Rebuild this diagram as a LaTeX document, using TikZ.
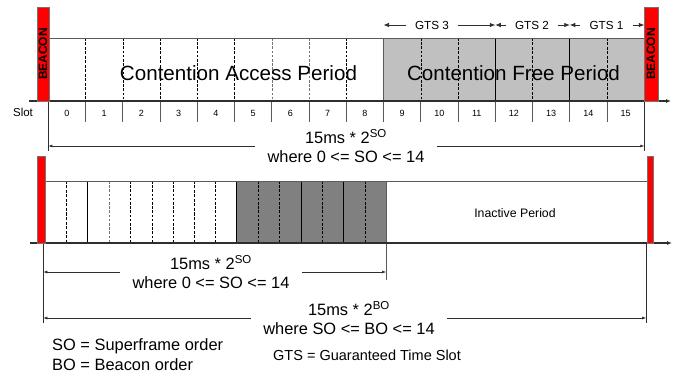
\documentclass[tikz,border=0pt]{standalone}
\usepackage{fontspec}
\setmainfont{Liberation Sans}
\usetikzlibrary{arrows.meta}
\definecolor{SFRed}{HTML}{FF0000}
\definecolor{SFLight}{HTML}{C0C0C0}
\definecolor{SFDark}{HTML}{808080}
\definecolor{SFLine}{HTML}{2E2E2E}
\definecolor{SFFrame}{HTML}{5A5A5A}
\tikzset{
  beacon/.style={draw=black!55,line width=0.4pt,fill=SFRed,rotate=90,inner sep=0pt,
    font=\fontsize{12}{12}\selectfont\bfseries},
  slotbold/.style={black,line width=1.1pt,dash pattern=on 3pt off 1.5pt},
  slotfine/.style={black,line width=0.5pt,dash pattern=on 2.6pt off 1.6pt},
  slotgrey/.style={slotfine,black!55},
  slotsolid/.style={black,line width=0.7pt},
  slottick/.style={SFFrame,line width=0.7pt},
  frameline/.style={SFFrame,line width=0.9pt},
  timeaxis/.style={SFLine,line width=1.4pt,-{Latex[length=5pt,width=4pt]}},
  dimarrow/.style={SFLine,line width=0.6pt,-{Latex[length=4pt,width=3pt]}},
  gtsarrow/.style={SFLine,line width=0.7pt,-{Latex[length=5.5pt,width=4.5pt]}},
  bigtxt/.style={font=\fontsize{20.6}{24}\selectfont},
  dimtxt/.style={align=center,font=\fontsize{16.4}{19}\selectfont,inner xsep=12pt,inner ysep=0pt},
  slotnum/.style={font=\fontsize{9}{9}\selectfont,inner sep=0pt},
  gtstxt/.style={font=\fontsize{11.7}{12}\selectfont,inner xsep=9pt,inner ysep=0pt},
  notetxt/.style={anchor=west,inner sep=0pt,font=\fontsize{16.4}{19}\selectfont}
}
\begin{document}
\begin{tikzpicture}[x=1pt,y=-1pt]
\path[use as bounding box] (0,0) rectangle (677,374);
% superframe with contention free part
\fill[SFLight] (383.55,38) rectangle (644.3,101);
\draw[slotbold] (85.55,38) -- (85.55,101);
\draw[slotfine] (122.8,38) -- (122.8,101);
\draw[slotbold] (160.05,38) -- (160.05,101);
\draw[slotfine] (197.3,38) -- (197.3,101);
\draw[slotbold] (234.55,38) -- (234.55,101);
\draw[slotgrey] (271.8,38) -- (271.8,101);
\draw[slotgrey] (309.05,38) -- (309.05,101);
\draw[slotfine] (346.3,38) -- (346.3,101);
\draw[slotsolid,SFFrame] (383.55,38) -- (383.55,101);
\draw[slotfine] (420.8,38) -- (420.8,101);
\draw[slotbold] (458.05,38) -- (458.05,101);
\draw[slotsolid] (495.3,38) -- (495.3,101);
\draw[slotbold] (532.55,38) -- (532.55,101);
\draw[slotsolid] (569.8,38) -- (569.8,101);
\draw[slotbold] (607.05,38) -- (607.05,101);
\draw[frameline] (36.7,38) -- (644.3,38);
\draw[slottick] (85.55,101) -- (85.55,122) (122.8,101) -- (122.8,122) (160.05,101) -- (160.05,122)
  (197.3,101) -- (197.3,122) (234.55,101) -- (234.55,122) (271.8,101) -- (271.8,122)
  (309.05,101) -- (309.05,122) (346.3,101) -- (346.3,122) (383.55,101) -- (383.55,122)
  (420.8,101) -- (420.8,122) (458.05,101) -- (458.05,122) (495.3,101) -- (495.3,122)
  (532.55,101) -- (532.55,122) (569.8,101) -- (569.8,122) (607.05,101) -- (607.05,122);
\draw[SFLine,line width=0.7pt] (48.3,101) -- (48.3,151);
\draw[SFLine,line width=0.7pt] (644.3,101) -- (644.3,151);
\draw[timeaxis] (29,101) -- (671,101);
\node[beacon,minimum width=94pt,minimum height=12.6pt] (bcnA) at (43,54) {BEACON};
\node[beacon,minimum width=94pt,minimum height=13.4pt] (bcnB) at (651,54) {BEACON};
\node[bigtxt] (cap) at (238.5,73) {Contention Access Period};
\node[bigtxt] (cfp) at (513.5,73) {Contention Free Period};
\node[font=\fontsize{11.5}{12}\selectfont,inner sep=0pt] (slotlbl) at (23,112) {Slot};
\node[slotnum] (s0) at (66.9,113) {0};
\node[slotnum] (s1) at (104.2,113) {1};
\node[slotnum] (s2) at (141.4,113) {2};
\node[slotnum] (s3) at (178.7,113) {3};
\node[slotnum] (s4) at (215.9,113) {4};
\node[slotnum] (s5) at (253.2,113) {5};
\node[slotnum] (s6) at (290.4,113) {6};
\node[slotnum] (s7) at (327.7,113) {7};
\node[slotnum] (s8) at (364.9,113) {8};
\node[slotnum] (s9) at (402.2,113) {9};
\node[slotnum] (s10) at (439.4,113) {10};
\node[slotnum] (s11) at (476.7,113) {11};
\node[slotnum] (s12) at (513.9,113) {12};
\node[slotnum] (s13) at (551.2,113) {13};
\node[slotnum] (s14) at (588.4,113) {14};
\node[slotnum] (s15) at (625.7,113) {15};
% guaranteed time slots
\coordinate (g0) at (383.55,25);
\coordinate (g1) at (495.3,25);
\coordinate (g2) at (569.8,25);
\coordinate (g3) at (644.3,25);
\node[gtstxt] (gts3) at (432,25) {GTS 3};
\node[gtstxt] (gts2) at (532,25) {GTS 2};
\node[gtstxt] (gts1) at (606.5,25) {GTS 1};
\draw[gtsarrow] (gts3.west) -- (g0);
\draw[gtsarrow] (gts3.east) -- (g1);
\draw[gtsarrow] (gts2.west) -- (g1);
\draw[gtsarrow] (gts2.east) -- (g2);
\draw[gtsarrow] (gts1.west) -- (g2);
\draw[gtsarrow] (gts1.east) -- (g3);
% superframe duration
\coordinate (sdL) at (48.3,146);
\coordinate (sdR) at (644.3,146);
\node[dimtxt] (sd) at (346,146) {15ms * 2\textsuperscript{SO}\\where 0 <= SO <= 14};
\draw[dimarrow] (sd.west) -- (sdL);
\draw[dimarrow] (sd.east) -- (sdR);
% beacon interval with inactive part
\fill[SFDark] (236.5,181) rectangle (386.1,243);
\draw[slotbold] (66.6,181) -- (66.6,243);
\draw[slotsolid,line width=1.1pt] (87.9,181) -- (87.9,243);
\draw[slotgrey] (109.2,181) -- (109.2,243);
\draw[slotfine] (130.5,181) -- (130.5,243);
\draw[slotfine] (151.8,181) -- (151.8,243);
\draw[slotfine] (173.1,181) -- (173.1,243);
\draw[slotbold] (194.4,181) -- (194.4,243);
\draw[slotfine] (215.7,181) -- (215.7,243);
\draw[slotsolid] (236.5,181) -- (236.5,243);
\draw[slotfine] (258.3,181) -- (258.3,243);
\draw[slotfine] (279.6,181) -- (279.6,243);
\draw[slotsolid] (300.9,181) -- (300.9,243);
\draw[slotfine] (322.2,181) -- (322.2,243);
\draw[slotsolid] (343.5,181) -- (343.5,243);
\draw[slotfine] (364.8,181) -- (364.8,243);
\draw[frameline] (45.3,181) -- (646.7,181);
\draw[SFFrame,line width=0.8pt] (386.1,181) -- (386.1,280);
\draw[SFLine,line width=0.7pt] (43.3,243) -- (43.3,323);
\draw[SFLine,line width=0.7pt] (646.2,243) -- (646.2,323);
\draw[timeaxis] (30,243) -- (672,243);
\node[beacon,minimum width=87pt,minimum height=8.6pt] (bcnC) at (41.2,199.5) {};
\node[beacon,minimum width=87pt,minimum height=6.6pt] (bcnD) at (650,199.5) {};
\node[font=\fontsize{12.3}{13}\selectfont] (inact) at (515,213) {Inactive Period};
\coordinate (adL) at (43.3,272);
\coordinate (adR) at (386.1,272);
\node[dimtxt] (ad) at (211,272) {15ms * 2\textsuperscript{SO}\\where 0 <= SO <= 14};
\draw[dimarrow] (ad.west) -- (adL);
\draw[dimarrow] (ad.east) -- (adR);
\coordinate (biL) at (43.3,318);
\coordinate (biR) at (646.2,318);
\node[dimtxt] (bi) at (349,318) {15ms * 2\textsuperscript{BO}\\where SO <= BO <= 14};
\draw[dimarrow] (bi.west) -- (biL);
\draw[dimarrow] (bi.east) -- (biR);
% legend
\node[notetxt] (keySO) at (52,346) {SO = Superframe order};
\node[notetxt] (keyBO) at (52,365) {BO = Beacon order};
\node[notetxt,font=\fontsize{14.5}{16}\selectfont] (keyGTS) at (273,355) {GTS = Guaranteed Time Slot};
\end{tikzpicture}
\end{document}
